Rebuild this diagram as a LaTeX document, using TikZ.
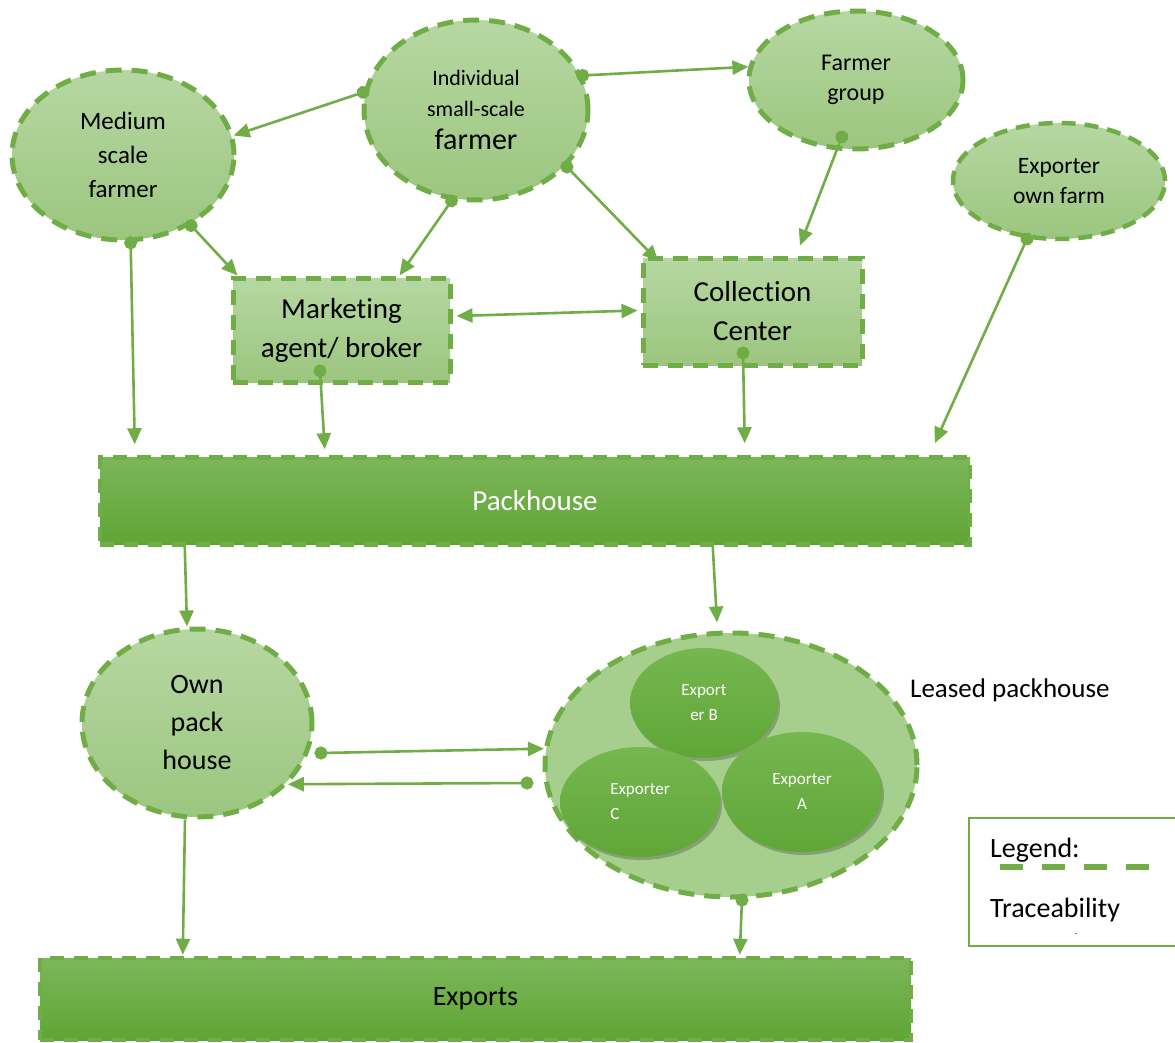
\documentclass[tikz,border=0pt]{standalone}
\usepackage{fontspec}
\setmainfont[Ligatures=NoCommon]{Carlito}
\usetikzlibrary{shapes.geometric,arrows.meta,calc,shadows}
\definecolor{dgreen}{HTML}{70AD47}
\definecolor{elltop}{HTML}{B6D7A2}
\definecolor{ellbot}{HTML}{9CC67F}
\definecolor{packtop}{HTML}{7CB65A}
\definecolor{packbot}{HTML}{5FA534}
\definecolor{bigfill}{HTML}{A6CE8C}
\definecolor{extop}{HTML}{76B750}
\definecolor{exbot}{HTML}{5FA637}
\begin{document}
\begin{tikzpicture}[x=1pt,y=-1pt,
  gell/.style={ellipse, draw=dgreen, line width=5pt, dash pattern=on 16pt off 10pt,
    top color=elltop, bottom color=ellbot, inner sep=0pt, align=center, text=black},
  grect/.style={rectangle, draw=dgreen, line width=5pt, dash pattern=on 15pt off 10pt,
    top color=elltop, bottom color=ellbot, inner sep=0pt, align=center, text=black},
  gbar/.style={rectangle, draw=dgreen, line width=4.5pt, dash pattern=on 14pt off 10pt,
    top color=packtop, bottom color=packbot, inner sep=0pt, align=center},
  exell/.style={ellipse, top color=extop, bottom color=exbot, inner sep=0pt, text=white,
    font=\fontsize{17}{25}\selectfont,
    drop shadow={shadow xshift=2pt, shadow yshift=-3pt, opacity=.35, fill=black!70}},
  conn/.style={draw=dgreen, line width=2.6pt, -{Triangle[length=16pt,width=14pt]}},
  dconn/.style={draw=dgreen, line width=2.6pt, shorten <=-6pt,
    {Circle[length=13pt]}-{Triangle[length=16pt,width=14pt]}},
  biconn/.style={draw=dgreen, line width=2.6pt,
    {Triangle[length=16pt,width=14pt]}-{Triangle[length=16pt,width=14pt]}}
]
\useasboundingbox (0,0) rectangle (1175,1043);

% upper nodes
\node[gell, minimum width=222pt, minimum height=170pt, font=\fontsize{25}{34}\selectfont] (med) at (123,155) {Medium\\scale\\farmer};
\node[gell, minimum width=224pt, minimum height=180pt, font=\fontsize{22}{31}\selectfont] (ind) at (476,110) {Individual\\small-scale\\[2pt]{\fontsize{30}{31}\selectfont farmer}};
\node[gell, minimum width=214pt, minimum height=138pt, font=\fontsize{24}{30}\selectfont] (fg) at (856,80) {Farmer\\group};
\node[gell, minimum width=212pt, minimum height=116pt, line width=4.5pt, dash pattern=on 14pt off 9pt, font=\fontsize{23.5}{30}\selectfont] (eof) at (1059,181) {Exporter\\own farm};
\node[grect, minimum width=217pt, minimum height=104pt, font=\fontsize{29}{39}\selectfont] (mkt) at (341.5,330) {Marketing\\agent/ broker};
\node[grect, minimum width=219pt, minimum height=107pt, font=\fontsize{29}{39}\selectfont] (coll) at (752.5,311.5) {Collection\\Center};

% bars
\node[gbar, minimum width=870pt, minimum height=87pt, text=white, font=\fontsize{29}{34}\selectfont] (pack) at (535,501) {Packhouse};
\node[gbar, minimum width=871pt, minimum height=82pt, text=black, font=\fontsize{28}{34}\selectfont] (exp) at (475.5,999) {Exports};

% lower nodes
\node[gell, minimum width=230pt, minimum height=188pt, font=\fontsize{28}{38}\selectfont] (own) at (197,723) {Own\\pack\\house};
\node[ellipse, draw=dgreen, line width=5pt, dash pattern=on 16pt off 10pt, fill=bigfill,
  minimum width=372pt, minimum height=264pt, inner sep=0pt] (big) at (731,765) {};
\node[exell, minimum width=148pt, minimum height=110pt, align=center] (exB) at (704,703) {Export\\er B};
\node[exell, minimum width=160pt, minimum height=110pt, align=left] (exC) at (640,802) {Exporter\\C};
\node[exell, minimum width=160pt, minimum height=120pt, align=center] (exA) at (802,792) {Exporter\\A};
\node[anchor=west, inner sep=0pt, font=\fontsize{27}{32}\selectfont] (leased) at (910,690) {Leased packhouse};

% legend
\node[draw=dgreen, line width=2.5pt, rectangle, minimum width=214pt, minimum height=128pt, inner sep=0pt] (legbox) at (1076,882) {};
\node[anchor=west, inner sep=0pt, font=\fontsize{28}{32}\selectfont] (legt) at (990,850) {Legend:};
\coordinate (ld1) at (1000,867);
\coordinate (ld2) at (1150,867);
\draw[dgreen, line width=6pt, dash pattern=on 23pt off 19pt] (ld1) -- (ld2);
\node[anchor=west, inner sep=0pt, font=\fontsize{28}{32}\selectfont] (trace) at (990,910) {Traceability};
\node[inner sep=0pt, font=\fontsize{8}{8}\selectfont] (tick) at (1076,935) {-};

% connectors
\draw[dconn] (ind.171) -- (med.10);
\draw[dconn] (ind.18) -- (fg.173);
\draw[dconn] (med.-46) -- ($(mkt.north west)+(7,0)$);
\draw[dconn] (ind.-105) -- ($(mkt.north)+(58,0)$);
\draw[dconn] (ind.-32) -- ($(coll.north west)+(18,6)$);
\draw[dconn] ($(fg.south)+(-14,-15)$) -- ($(coll.north)+(47.5,-10)$);
\draw[biconn] ($(mkt.east)+(4,-14)$) -- ($(coll.west)+(-3,-1)$);
\draw[dconn] (med.-85) -- ($(pack.north west)+(37,-11)$);
\draw[dconn] ($(mkt.south)+(-21.5,-14)$) -- ($(pack.north west)+(227,-6)$);
\draw[dconn] ($(coll.south)+(-9.5,-15)$) -- ($(pack.north west)+(647,-12)$);
\draw[dconn] (eof.-119) -- ($(pack.north west)+(837,-12)$);
\draw[conn] ($(pack.south west)+(87,0)$) -- ($(own.north)+(-10,0)$);
\draw[conn] ($(pack.south west)+(615,0)$) -- ($(big.north)+(-14,-8)$);
\draw[dconn] ($(own.east)+(6,30)$) -- (big.175);
\draw[dconn] ($(big.west)+(-15,18)$) -- (own.-34);
\draw[conn] ($(own.south)+(-12,0)$) -- ($(exp.north west)+(145,-1)$);
\draw[dconn] ($(big.south)+(11,0)$) -- ($(exp.north west)+(702,-1)$);
\end{tikzpicture}
\end{document}
